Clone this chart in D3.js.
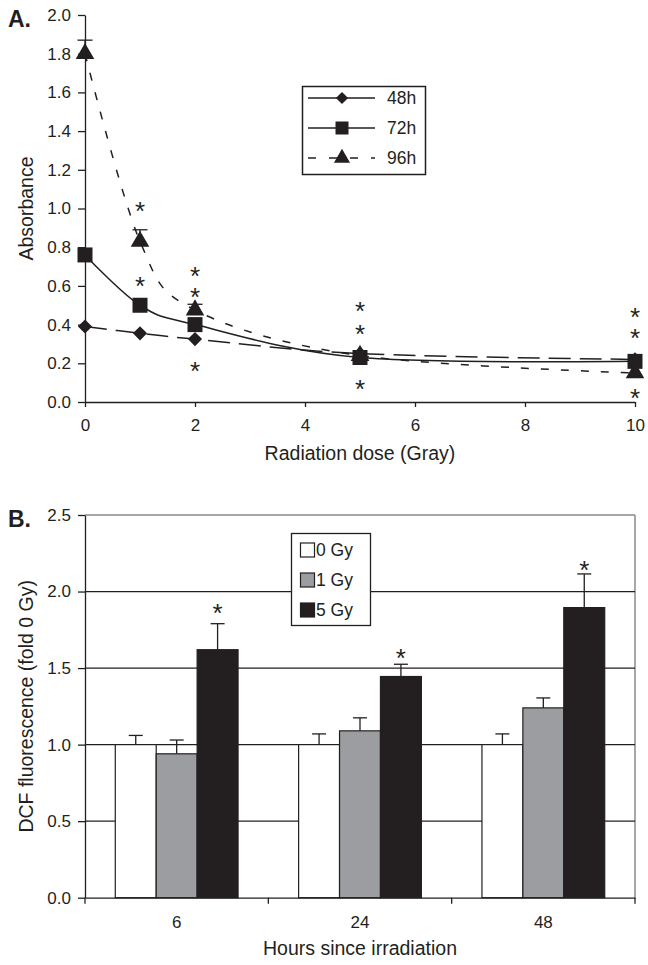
<!DOCTYPE html>
<html>
<head>
<meta charset="utf-8">
<script src="https://cdn.jsdelivr.net/npm/d3@7"></script>
<style>
  body { margin: 0; background: #fff; }
  svg { display: block; }
</style>
</head>
<body>
<script>
// panel A data
var doses = [0, 1, 2, 5, 10];
var abs48 = [0.39, 0.355, 0.325, 0.25, 0.22];
var abs72 = [0.76, 0.50, 0.40, 0.23, 0.21];
var abs96 = [1.80, 0.83, 0.475, 0.24, 0.15];
var err96 = [0.07, 0.06, 0.03, 0, 0];
var doseTicks = [0, 2, 4, 6, 8, 10];
var absTicks = [0, 0.2, 0.4, 0.6, 0.8, 1.0, 1.2, 1.4, 1.6, 1.8, 2.0];
var starDoseA = [1, 1, 2, 2, 2, 5, 5, 5, 10, 10, 10];
var starAbsA = [1.02, 0.63, 0.68, 0.575, 0.19, 0.50, 0.38, 0.10, 0.47, 0.36, 0.05];

// panel B data
var hours = ["6", "24", "48"];
var gyGroups = ["0 Gy", "1 Gy", "5 Gy"];
var dcf0 = [1.00, 1.00, 1.00];
var err0 = [0.06, 0.07, 0.07];
var dcf1 = [0.94, 1.09, 1.24];
var err1 = [0.09, 0.085, 0.065];
var dcf5 = [1.62, 1.445, 1.895];
var err5 = [0.17, 0.08, 0.22];
var starDcfB = [1.90, 1.605, 2.18];
var dcfTicks = [0, 0.5, 1.0, 1.5, 2.0, 2.5];

var F = "'Liberation Sans', Arial, Helvetica, sans-serif";
var INK = "#231f20";

var svg = d3.select("body").append("svg")
    .attr("width", 648)
    .attr("height", 965)
    .attr("font-family", F);

// ---------- Panel A ----------
var xA = d3.scaleLinear().domain([0, 10]).range([85, 635]);
var yA = d3.scaleLinear().domain([0, 2]).range([402, 15]);

var gA = svg.append("g");

var ax = gA.append("g")
    .attr("transform", "translate(0," + yA(0) + ")")
    .call(d3.axisBottom(xA).tickValues(doseTicks).tickFormat(d3.format("d"))
        .tickSize(5).tickSizeOuter(0).tickPadding(12));
var ay = gA.append("g")
    .attr("transform", "translate(" + xA(0) + ",0)")
    .call(d3.axisLeft(yA).tickValues(absTicks).tickFormat(d3.format(".1f"))
        .tickSize(7).tickSizeOuter(0).tickPadding(7));
[ax, ay].forEach(function(g){
    g.attr("font-family", F).attr("font-size", 17);
    g.selectAll("path, line").attr("stroke", INK).attr("stroke-width", 1.3);
    g.selectAll("text").attr("fill", INK);
});

// diamond = square turned 45 degrees
var seriesA = [
    {name: "48h", vals: abs48, dash: "22,9", legDash: "30,7", shape: d3.symbolSquare, size: 100, rot: 45},
    {name: "72h", vals: abs72, dash: null, legDash: null, shape: d3.symbolSquare, size: 225, rot: 0},
    {name: "96h", vals: abs96, dash: "8,12", legDash: "8,13", shape: d3.symbolTriangle, size: 150, rot: 0}
];

var line = d3.line()
    .x(function(d){ return xA(d[0]); })
    .y(function(d){ return yA(d[1]); })
    .curve(d3.curveCatmullRom.alpha(0));

// error bars (96h)
doses.forEach(function(d, i){
    if (err96[i] <= 0) return;
    var top = abs96[i] + err96[i];
    gA.append("line")
        .attr("x1", xA(d)).attr("x2", xA(d))
        .attr("y1", yA(abs96[i])).attr("y2", yA(top))
        .attr("stroke", INK).attr("stroke-width", 1.3);
    gA.append("line")
        .attr("x1", xA(d) - 7.5).attr("x2", xA(d) + 7.5)
        .attr("y1", yA(top)).attr("y2", yA(top))
        .attr("stroke", INK).attr("stroke-width", 1.3);
});

seriesA.forEach(function(s){
    var pts = doses.map(function(d, i){ return [d, s.vals[i]]; });
    gA.append("path")
        .attr("d", line(pts))
        .attr("fill", "none")
        .attr("stroke", INK)
        .attr("stroke-width", 1.5)
        .attr("stroke-dasharray", s.dash);
    gA.selectAll(null)
        .data(pts)
        .enter()
        .append("path")
        .attr("transform", function(d){
            return "translate(" + xA(d[0]) + "," + yA(d[1]) + ") rotate(" + s.rot + ")";
        })
        .attr("d", d3.symbol().type(s.shape).size(s.size))
        .attr("fill", INK);
});

// asterisks A
gA.selectAll(".starA")
    .data(starDoseA.map(function(d, i){ return [d, starAbsA[i]]; }))
    .enter()
    .append("text")
    .attr("class", "starA")
    .attr("x", function(d){ return xA(d[0]); })
    .attr("y", function(d){ return yA(d[1]) + 15; })
    .attr("text-anchor", "middle")
    .attr("font-size", 26)
    .attr("fill", INK)
    .text("*");

// legend A
var legA = gA.append("g");
legA.append("rect")
    .attr("x", 302.5).attr("y", 86.5)
    .attr("width", 123).attr("height", 88)
    .attr("fill", "#fff").attr("stroke", INK).attr("stroke-width", 1.5);
seriesA.forEach(function(s, i){
    var yy = 98 + i * 30;
    legA.append("line")
        .attr("x1", 308).attr("x2", 375)
        .attr("y1", yy).attr("y2", yy)
        .attr("stroke", INK).attr("stroke-width", 1.5)
        .attr("stroke-dasharray", s.legDash);
    legA.append("path")
        .attr("transform", "translate(342," + yy + ") rotate(" + s.rot + ")")
        .attr("d", d3.symbol().type(s.shape).size(s.size * 0.75))
        .attr("fill", INK);
    legA.append("text")
        .attr("x", 387).attr("y", yy)
        .attr("dy", "0.35em")
        .attr("font-size", 17.5)
        .attr("fill", INK)
        .text(s.name);
});

gA.append("text")
    .attr("x", 360).attr("y", 460)
    .attr("text-anchor", "middle")
    .attr("font-size", 19.5)
    .attr("fill", INK)
    .text("Radiation dose (Gray)");
gA.append("text")
    .attr("transform", "translate(33," + (yA(1)) + ") rotate(-90)")
    .attr("text-anchor", "middle")
    .attr("font-size", 19.5)
    .attr("fill", INK)
    .text("Absorbance");
gA.append("text")
    .attr("x", 8).attr("y", 27)
    .attr("font-size", 23)
    .attr("font-weight", "bold")
    .attr("fill", INK)
    .text("A.");

// ---------- Panel B ----------
var xB = d3.scaleBand().domain(hours).range([85, 635]).padding(0);
var xIn = d3.scaleBand().domain(gyGroups).range([0, xB.bandwidth()]).paddingInner(0).paddingOuter(0.74);
var yB = d3.scaleLinear().domain([0, 2.5]).range([897.7, 515]);

var gB = svg.append("g");

// plot border (top / right) in grey
gB.append("line")
    .attr("x1", 85).attr("x2", xB.range()[1])
    .attr("y1", yB(2.5)).attr("y2", yB(2.5))
    .attr("stroke", "#8a8a8a").attr("stroke-width", 1.5);
gB.append("line")
    .attr("x1", xB.range()[1]).attr("x2", xB.range()[1])
    .attr("y1", yB(2.5)).attr("y2", yB(0))
    .attr("stroke", "#8a8a8a").attr("stroke-width", 1.5);

// gridlines
gB.selectAll(".grid")
    .data(dcfTicks.filter(function(t){ return t > 0 && t < 2.5; }))
    .enter()
    .append("line")
    .attr("x1", xB.range()[0]).attr("x2", xB.range()[1])
    .attr("y1", function(d){ return yB(d); })
    .attr("y2", function(d){ return yB(d); })
    .attr("stroke", INK).attr("stroke-width", 1.2);

var barData = [];
hours.forEach(function(h, i){
    barData.push({h: h, g: "0 Gy", v: dcf0[i], e: err0[i]});
    barData.push({h: h, g: "1 Gy", v: dcf1[i], e: err1[i]});
    barData.push({h: h, g: "5 Gy", v: dcf5[i], e: err5[i]});
});
var colorB = {"0 Gy": "#ffffff", "1 Gy": "#9c9da1", "5 Gy": INK};

// error bars first, bars drawn over their lower part
barData.forEach(function(d){
    var cx = xB(d.h) + xIn(d.g) + xIn.bandwidth() / 2;
    gB.append("line")
        .attr("x1", cx).attr("x2", cx)
        .attr("y1", yB(d.v)).attr("y2", yB(d.v + d.e))
        .attr("stroke", INK).attr("stroke-width", 1.3);
    gB.append("line")
        .attr("x1", cx - 7).attr("x2", cx + 7)
        .attr("y1", yB(d.v + d.e)).attr("y2", yB(d.v + d.e))
        .attr("stroke", INK).attr("stroke-width", 1.3);
});

gB.selectAll(".bar")
    .data(barData)
    .enter()
    .append("rect")
    .attr("class", "bar")
    .attr("x", function(d){ return xB(d.h) + xIn(d.g); })
    .attr("y", function(d){ return yB(d.v); })
    .attr("width", xIn.bandwidth())
    .attr("height", function(d){ return yB(0) - yB(d.v); })
    .attr("fill", function(d){ return colorB[d.g]; })
    .attr("stroke", INK)
    .attr("stroke-width", 1.2);

// asterisks B over 5 Gy bars
gB.selectAll(".starB")
    .data(starDcfB)
    .enter()
    .append("text")
    .attr("class", "starB")
    .attr("x", function(d, i){ return xB(hours[i]) + xIn("5 Gy") + xIn.bandwidth() / 2; })
    .attr("y", function(d){ return yB(d) + 15; })
    .attr("text-anchor", "middle")
    .attr("font-size", 26)
    .attr("fill", INK)
    .text("*");

// axes
var bx = gB.append("g")
    .attr("transform", "translate(0," + yB(0) + ")")
    .call(d3.axisBottom(xB).tickSize(0).tickPadding(18));
bx.selectAll(".tick line").remove();
bx.selectAll(".edge")
    .data(d3.range(hours.length + 1))
    .enter()
    .append("line")
    .attr("x1", function(i){ return xB.range()[0] + i * xB.step(); })
    .attr("x2", function(i){ return xB.range()[0] + i * xB.step(); })
    .attr("y1", 0).attr("y2", 6);
var by = gB.append("g")
    .attr("transform", "translate(" + xB.range()[0] + ",0)")
    .call(d3.axisLeft(yB).tickValues(dcfTicks).tickFormat(d3.format(".1f"))
        .tickSize(7).tickSizeOuter(0).tickPadding(7));
[bx, by].forEach(function(g){
    g.attr("font-family", F).attr("font-size", 17);
    g.selectAll("path, line").attr("stroke", INK).attr("stroke-width", 1.3);
    g.selectAll("text").attr("fill", INK);
});

// legend B
var legB = gB.append("g");
legB.append("rect")
    .attr("x", 291.5).attr("y", 533.5)
    .attr("width", 79).attr("height", 92)
    .attr("fill", "#fff").attr("stroke", INK).attr("stroke-width", 1.3);
gyGroups.forEach(function(g, i){
    var yy = 550 + i * 30;
    legB.append("rect")
        .attr("x", 300.5).attr("y", yy - 7)
        .attr("width", 14).attr("height", 14)
        .attr("fill", colorB[g]).attr("stroke", INK).attr("stroke-width", 1.2);
    legB.append("text")
        .attr("x", 316).attr("y", yy)
        .attr("dy", "0.35em")
        .attr("font-size", 17.5)
        .attr("fill", INK)
        .text(g);
});

gB.append("text")
    .attr("x", 360).attr("y", 955)
    .attr("text-anchor", "middle")
    .attr("font-size", 19.5)
    .attr("fill", INK)
    .text("Hours since irradiation");
gB.append("text")
    .attr("transform", "translate(33," + yB(1.25) + ") rotate(-90)")
    .attr("text-anchor", "middle")
    .attr("font-size", 19.5)
    .attr("fill", INK)
    .text("DCF fluorescence (fold 0 Gy)");
gB.append("text")
    .attr("x", 8).attr("y", 527)
    .attr("font-size", 23)
    .attr("font-weight", "bold")
    .attr("fill", INK)
    .text("B.");
</script>
</body>
</html>
